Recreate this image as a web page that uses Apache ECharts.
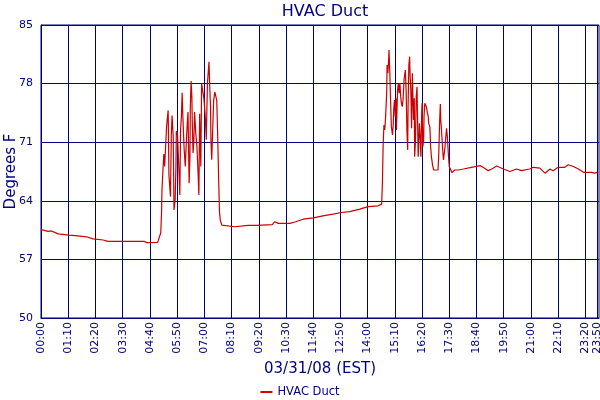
<!DOCTYPE html>
<html>
<head>
<meta charset="utf-8">
<script src="https://cdn.jsdelivr.net/npm/echarts@6/dist/echarts.min.js"></script>
<style>
html,body{margin:0;padding:0;background:#fff;}
#chart{width:600px;height:400px;}
</style>
</head>
<body>
<div id="chart"></div>
<script>
// minutes after midnight
var minutes = [
  0, 6, 18, 27, 32, 44, 72, 95, 117, 134, 160, 172, 220, 265, 268, 272, 275, 300, 305,
  308, 310, 311, 314, 316, 318, 323, 327, 329, 333, 335, 337, 340, 342, 345, 347, 348, 351, 354, 355,
  357, 359, 361, 363, 365, 368, 371, 374, 376, 378, 381, 383, 384, 386, 388, 389, 391, 393, 395, 398,
  401, 404, 406, 408, 411, 413, 415, 417, 419, 422, 424, 425, 428, 431, 432, 434, 436, 437, 439, 441,
  444, 447, 449, 452, 454, 457, 459, 461, 465,
  468, 498, 533, 554, 595, 601, 610, 640, 653, 674, 700, 725, 751, 773, 794, 820, 841, 867, 876,
  878, 880, 882, 884, 886, 889, 890, 892, 894, 895, 897, 899, 901, 904, 906, 907, 909, 911, 913, 914,
  917, 919, 921, 923, 925, 927, 929, 931, 934, 936, 937, 939, 941, 943, 944, 946, 948, 949, 951, 953,
  955, 956, 958, 960, 961, 963, 965, 967, 968, 970, 972, 973, 975, 977, 979, 980, 982, 984, 985, 987,
  989, 991, 992, 994, 996, 997, 1000, 1002, 1004, 1007, 1010, 1021, 1023, 1025, 1027, 1028, 1030, 1033,
  1035, 1037, 1039, 1041, 1043, 1045, 1046, 1048, 1050, 1051, 1054, 1057, 1060, 1064, 1069, 1073,
  1086, 1107, 1129, 1137, 1150, 1159, 1172, 1189, 1206, 1223, 1236, 1257, 1266, 1283, 1296, 1309, 1317,
  1330, 1347, 1356, 1369, 1382, 1395, 1416, 1424, 1430
];
// duct temperature, degrees F
var tempF = [
  60.55, 60.5, 60.35, 60.4, 60.3, 60.05, 59.9, 59.8, 59.7, 59.45, 59.32, 59.16, 59.16, 59.16, 59.0, 59.0, 59.04, 59.04, 59.04,
  60.19, 62.6, 65.2, 68.1, 69.6, 68.1, 72.9, 74.8, 67.1, 64.5, 71.7, 74.2, 71.7, 62.9, 64.1, 68.1, 72.3, 71.9, 71.7, 67.3,
  64.7, 72.5, 74.0, 76.9, 73.85, 70.3, 68.1, 71.3, 73.1, 74.6, 66.1, 69.3, 75.2, 78.3, 76.4, 73.4, 69.7, 71.1, 74.6, 72.1,
  70.5, 67.3, 64.7, 74.4, 68.1, 78.0, 78.0, 78.1, 76.2, 74.4, 72.5, 71.3, 78.0, 78.2, 80.6, 77.6, 75.2, 71.3, 68.9, 71.7,
  76.0, 77.0, 76.8, 76.0, 72.5, 66.3, 62.7, 61.7, 61.1,
  60.98, 60.9, 61.07, 61.07, 61.15, 61.5, 61.3, 61.3, 61.47, 61.8, 61.95, 62.2, 62.4, 62.6, 62.7, 63.0, 63.3, 63.4, 63.6,
  66.1, 70.9, 73.05, 72.46, 73.85, 76.84, 80.22, 79.23, 80.82, 82.01, 79.42, 76.04, 72.86, 71.86, 73.25, 74.85, 76.04, 74.05, 76.24, 72.46,
  77.24, 78.03, 76.84, 78.03, 76.44, 75.64, 75.24, 76.04, 78.63, 78.83, 79.62, 77.24, 72.46, 70.07, 75.24, 80.22, 81.22, 79.23, 77.24, 72.66,
  79.23, 77.24, 73.65, 76.24, 69.27, 71.26, 76.44, 77.63, 74.85, 69.27, 71.66, 73.25, 71.66, 69.27, 74.45, 75.64, 70.47, 71.26, 74.05, 75.64,
  75.84, 75.24, 75.44, 74.45, 74.05, 73.25, 72.86, 70.47, 69.27, 68.27, 67.68, 67.68, 69.67, 73.25, 75.56, 73.65, 72.46, 70.07,
  68.87, 69.67, 70.47, 71.66, 72.66, 71.66, 70.87, 69.27, 68.08, 67.88, 67.68, 67.36, 67.48, 67.68, 67.76, 67.68,
  67.8, 68.0, 68.2, 68.0, 67.6, 67.8, 68.15, 67.8, 67.5, 67.8, 67.6, 67.8, 68.0, 67.9, 67.3, 67.8, 67.6,
  68.0, 68.0, 68.3, 68.1, 67.8, 67.4, 67.4, 67.3, 67.4
];
var xTickMinutes = [0, 70, 140, 210, 280, 350, 420, 490, 560, 630, 700, 770, 840, 910, 980, 1050, 1120, 1190, 1260, 1330, 1400, 1430];
var yTicks = [50, 57, 64, 71, 78, 85];
var seriesName = 'HVAC Duct';

var navy = '#000080';
var fontFam = '"DejaVu Sans", Verdana, sans-serif';
function fmt(m) {
  var h = Math.floor(m / 60), mm = Math.round(m % 60);
  return (h < 10 ? '0' : '') + h + ':' + (mm < 10 ? '0' : '') + mm;
}
var pts = minutes.map(function (m, i) { return [m, tempF[i]]; });

var chart = echarts.init(document.getElementById('chart'), null, {renderer: 'canvas'});
chart.setOption({
  animation: false,
  backgroundColor: '#fff',
  title: {
    text: 'HVAC Duct',
    left: 320, textAlign: 'center', top: -1,
    textStyle: {color: navy, fontFamily: fontFam, fontSize: 16, fontWeight: 'normal'}
  },
  legend: {
    data: [seriesName],
    left: 'center', top: 381,
    icon: 'rect', itemWidth: 12, itemHeight: 2, itemGap: 4,
    textStyle: {color: navy, fontFamily: fontFam, fontSize: 11.5}
  },
  grid: {
    left: 41, right: 1, top: 25, bottom: 82,
    containLabel: false, outerBoundsMode: 'none',
    show: true, borderColor: navy, borderWidth: 1, backgroundColor: '#fff'
  },
  xAxis: {
    type: 'value', min: 0, max: 1435,
    name: '03/31/08 (EST)', nameLocation: 'middle', nameGap: 44, nameMoveOverlap: false,
    nameTextStyle: {color: navy, fontFamily: fontFam, fontSize: 15},
    axisLine: {show: true, lineStyle: {color: navy}},
    axisTick: {show: false, customValues: xTickMinutes},
    axisLabel: {
      customValues: xTickMinutes, rotate: 90, margin: 4,
      color: navy, fontFamily: fontFam, fontSize: 11,
      formatter: function (v) { return fmt(v); }
    },
    splitLine: {show: true, lineStyle: {color: navy, width: 1}}
  },
  yAxis: {
    type: 'value', min: 50, max: 85,
    name: 'Degrees F', nameLocation: 'middle', nameGap: 22, nameMoveOverlap: false,
    nameTextStyle: {color: navy, fontFamily: fontFam, fontSize: 15},
    axisLine: {show: true, lineStyle: {color: navy}},
    axisTick: {show: false, customValues: yTicks},
    axisLabel: {customValues: yTicks, margin: 8, color: navy, fontFamily: fontFam, fontSize: 11},
    splitLine: {show: true, lineStyle: {color: navy, width: 1}}
  },
  series: [{
    name: seriesName, type: 'line', data: pts,
    showSymbol: false, symbol: 'none',
    lineStyle: {color: '#cc0000', width: 1.2},
    itemStyle: {color: '#cc0000'}
  }]
});
</script>
</body>
</html>
